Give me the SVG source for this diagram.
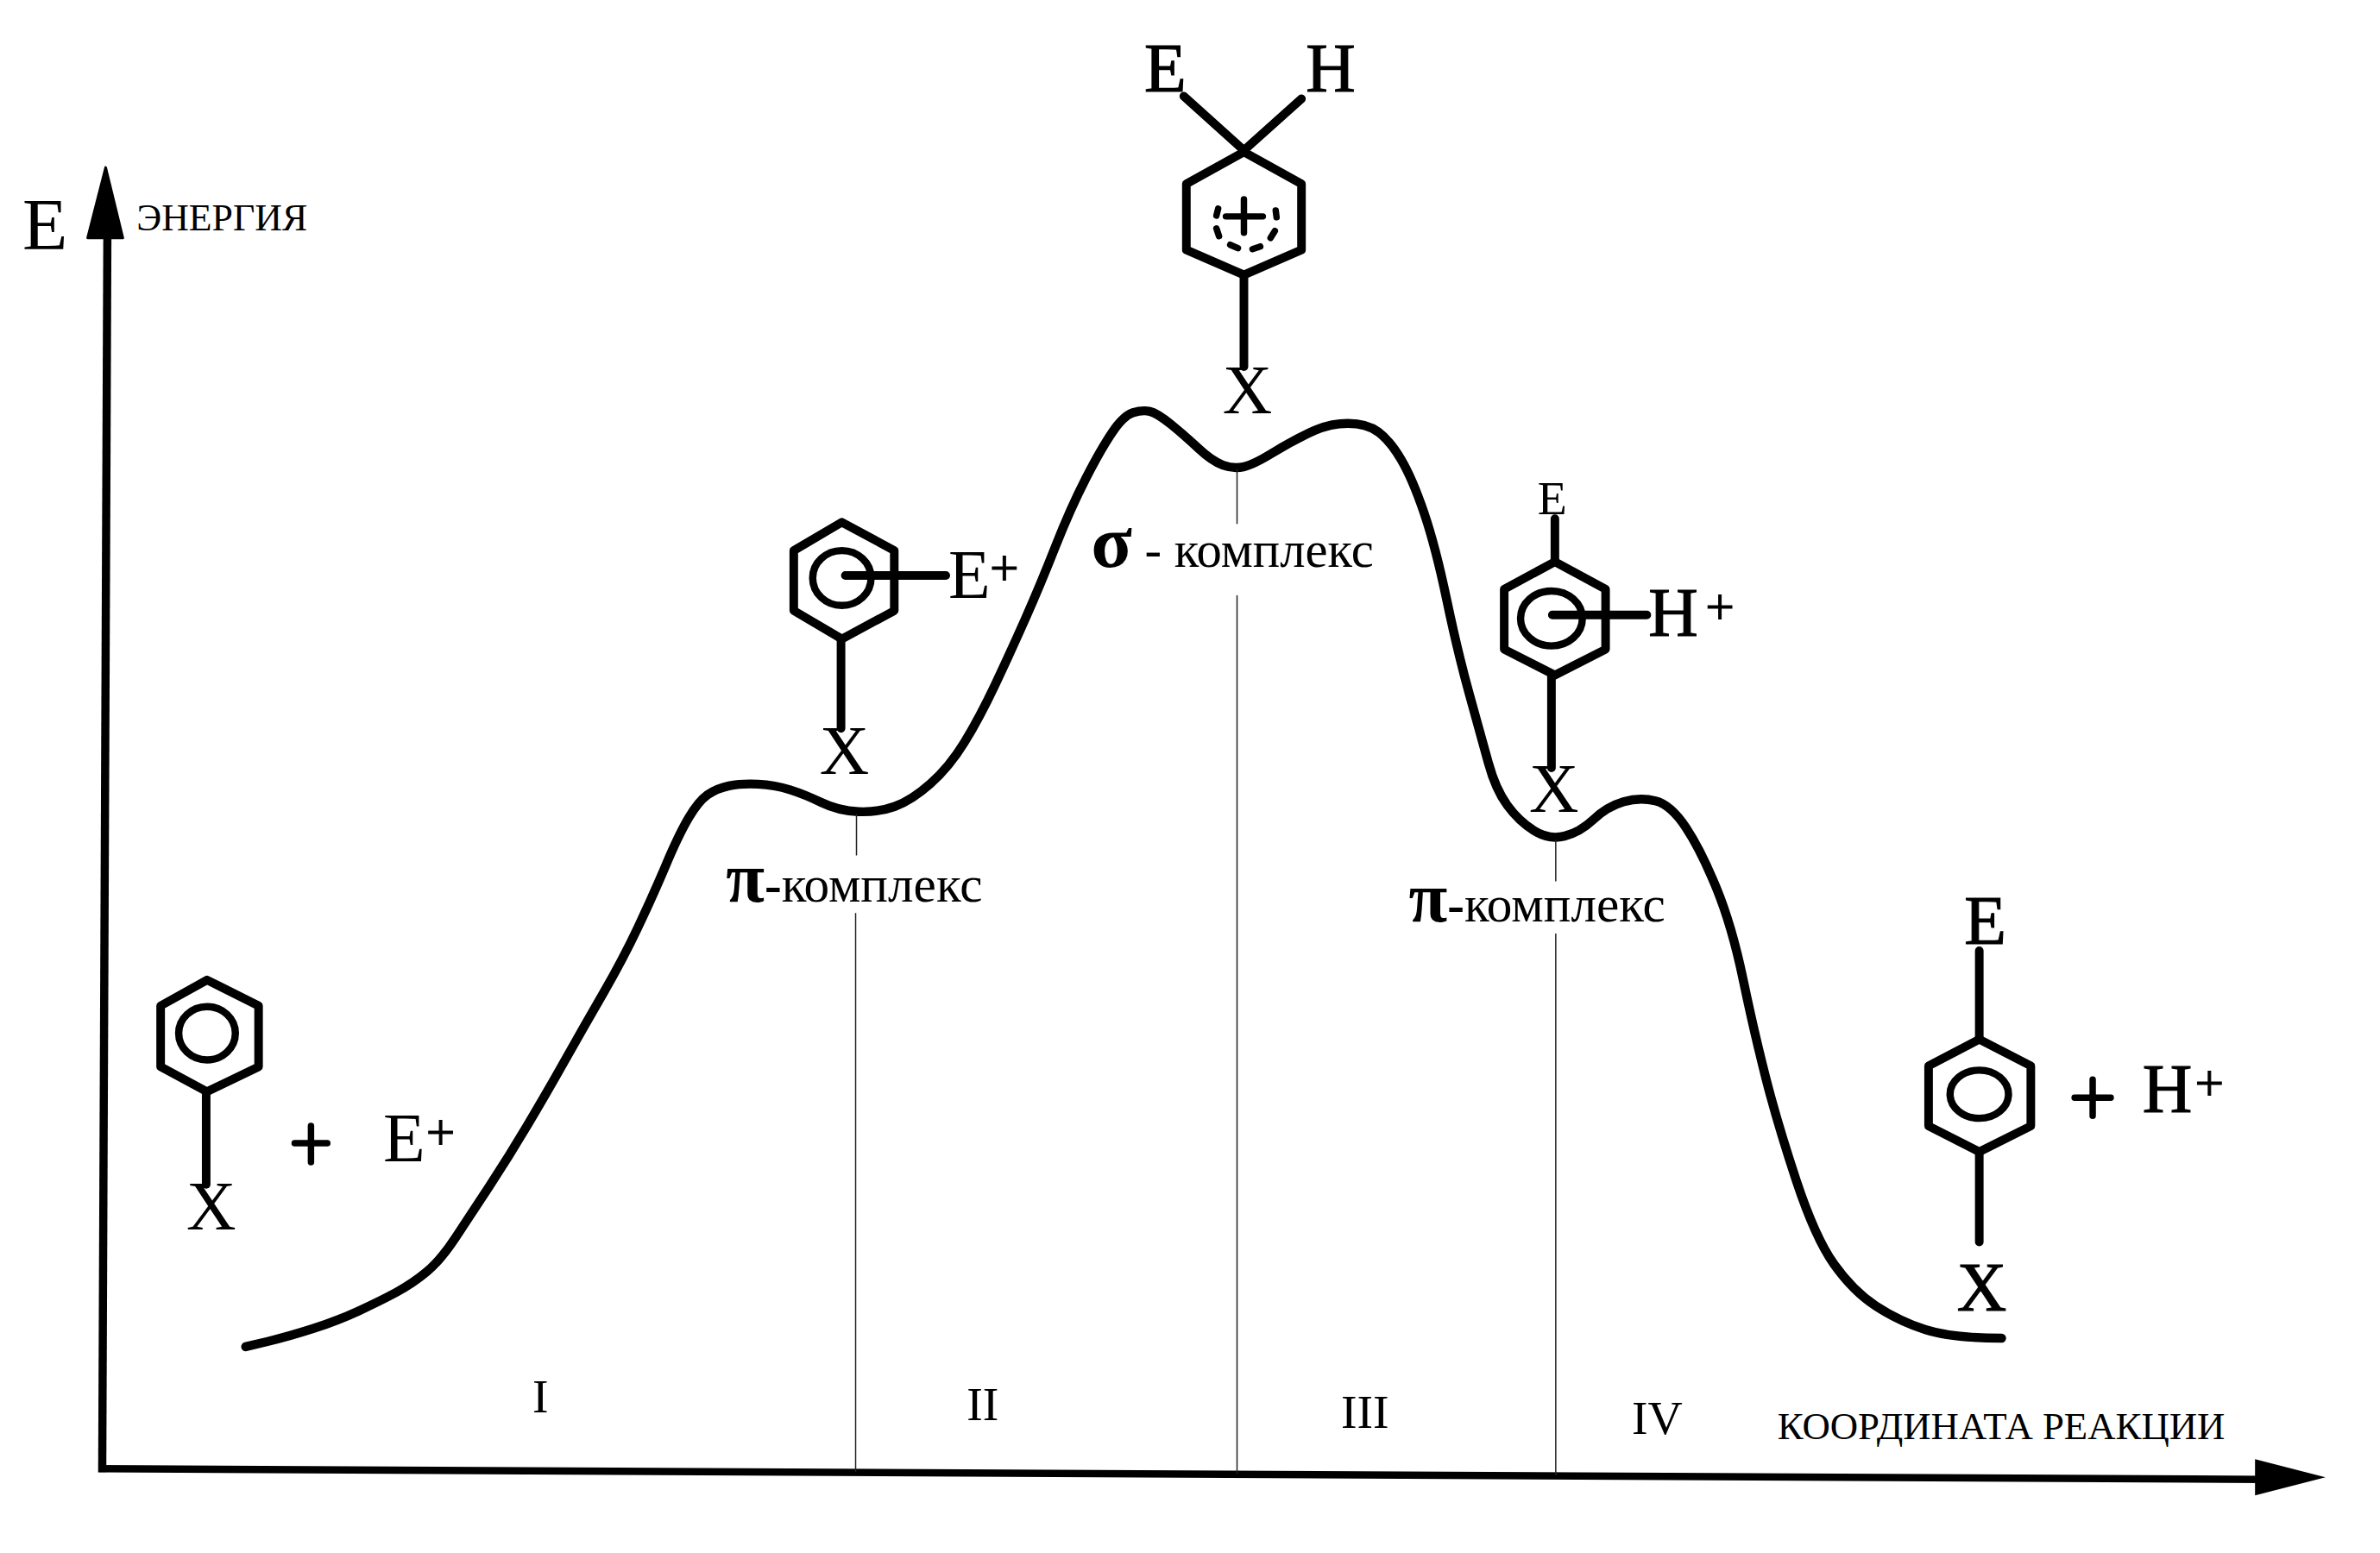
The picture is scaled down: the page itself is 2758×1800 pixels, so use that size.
<svg xmlns="http://www.w3.org/2000/svg" width="2758" height="1800" viewBox="0 0 2758 1800">
<style>
text{font-family:"Liberation Serif","Times New Roman",serif;fill:#000}
.b{fill:none;stroke:#000;stroke-width:10;stroke-linejoin:round;stroke-linecap:round}
.r{fill:none;stroke:#000;stroke-width:8.5}
.t{stroke:#000;stroke-width:7.5;stroke-linecap:round}
.v{stroke:#222;stroke-width:1.5}
.f{font-size:80px}
.s{stroke:#000;stroke-width:1.2px}
.sup{font-size:60px;stroke:#000;stroke-width:1px}
.lbl{font-size:59.5px}
.pi{font-size:82px;font-weight:bold}
.rom{font-size:56px}
</style>
<rect width="2758" height="1800" fill="#fff"/>
<g id="diagram" transform="scale(0.9955)">
<g id="connectors">
<path id="axis-y" d="M125 270L119 1714" fill="none" stroke="#000" stroke-width="9.5"/>
<path d="M123 195L143 277H102Z" stroke="#000" stroke-width="3" stroke-linejoin="round"/>
<path id="axis-x" d="M114.5 1710L2635 1722.5" fill="none" stroke="#000" stroke-width="8.5"/>
<path d="M2707 1720L2625 1699V1741Z"/>
<path id="energy-curve" d="M286 1568L311 1562Q336 1556 364 1547Q392 1538 417 1526.5Q442 1515 461.5 1504.5Q481 1494 497 1480.5Q513 1467 530.5 1440.5Q548 1414 570 1380.5Q592 1347 614 1310Q636 1273 658.5 1233Q681 1193 703 1155Q725 1117 742.5 1080Q760 1043 775 1007.5Q790 972 801.5 952.5Q813 933 823.5 925.5Q834 918 848.5 915Q863 912 882.5 913Q902 914 919.5 919.5Q937 925 956.5 934.5Q976 944 999 945Q1022 946 1041.5 939Q1061 932 1083 912.5Q1105 893 1122.5 864.5Q1140 836 1158 798Q1176 760 1193.5 720.5Q1211 681 1228.5 636.5Q1246 592 1264 557Q1282 522 1295 503Q1308 484 1319 480.5Q1330 477 1338.5 479Q1347 481 1363 494Q1379 507 1395 522Q1411 537 1423.5 541.5Q1436 546 1447.5 543.5Q1459 541 1481 527.5Q1503 514 1525 503.5Q1547 493 1569 493Q1591 493 1604.5 503Q1618 513 1631 535Q1644 557 1657.5 596.5Q1671 636 1684 698Q1697 760 1710.5 808.5Q1724 857 1732.5 888Q1741 919 1754.5 937.5Q1768 956 1785.5 967Q1803 978 1821 973.5Q1839 969 1855 954Q1871 939 1890 933.5Q1909 928 1927 932.5Q1945 937 1962.5 963.5Q1980 990 1998 1034Q2016 1078 2029 1140Q2042 1202 2055.5 1255Q2069 1308 2091 1374.5Q2113 1441 2135 1472Q2157 1503 2183.5 1520.5Q2210 1538 2241 1548Q2272 1558 2330 1558" fill="none" stroke="#000" stroke-width="10.5" stroke-linejoin="round" stroke-linecap="round"/>
<path class="v" d="M997 948V996M996 1063V1714M1440 546V610M1440 693V1716M1811 978V1026M1811 1087V1718"/>
</g>
<g id="axis-labels">
<text x="26" y="290" font-size="86">E</text>
<text x="159" y="268" font-size="44">ЭНЕРГИЯ</text>
<text x="2069" y="1676" font-size="45">КООРДИНАТА РЕАКЦИИ</text>
</g>
<g id="regions">
<text class="rom" x="629" y="1644" text-anchor="middle">I</text>
<text class="rom" x="1144" y="1653" text-anchor="middle">II</text>
<text class="rom" x="1589" y="1662" text-anchor="middle">III</text>
<text class="rom" x="1929" y="1670" text-anchor="middle">IV</text>
</g>
<g id="reactants" transform="translate(1 4)">
<path class="b" d="M240 1137L300 1167V1238L240 1267L186 1238V1167Z"/>
<ellipse class="r" cx="240" cy="1199" rx="33" ry="31"/>
<path class="b" stroke-linecap="butt" d="M239 1267V1375"/>
<text class="f" x="245" y="1427" text-anchor="middle">X</text>
<path class="t" d="M342 1327H380M361 1307V1349"/>
<text class="f" x="445" y="1348">E</text>
<text class="sup" x="512" y="1334" text-anchor="middle">+</text>
</g>
<g id="pi-complex-1">
<g transform="translate(1 3)">
<path class="b" d="M979 605L1040 638V708L979 741L923 708V638Z"/>
<ellipse class="r" cx="979" cy="670" rx="34" ry="32"/>
<path class="b" d="M983 667H1100M978 741V845"/>
<text class="f" x="982" y="898" text-anchor="middle">X</text>
<text class="f" x="1103" y="693">E</text>
<text class="sup" x="1168" y="678" text-anchor="middle">+</text>
</g>
<text x="845" y="1050"><tspan class="pi">π</tspan><tspan class="lbl" font-weight="bold">-</tspan><tspan class="lbl">комплекс</tspan></text>
</g>
<g id="sigma-complex">
<g transform="translate(0 2)">
<path class="b" d="M1448 175L1515 212V289L1448 318L1381 289V212Z"/>
<path class="b" d="M1448 173L1378 110M1448 173L1515 113M1448 318V425"/>
<path class="t" d="M1427 250H1470M1448 230V269"/>
<path class="t" stroke-width="8" d="M1418 241L1416 249M1485 243L1486 251M1416 264L1419 273M1484 267L1479 275M1432 283L1441 287M1458 288L1467 285"/>
<text class="f s" x="1332" y="104">E</text>
<text class="f s" x="1520" y="104">H</text>
<text class="f" x="1452" y="479" text-anchor="middle">X</text>
</g>
<text x="1270" y="660"><tspan font-size="88" font-weight="bold">σ</tspan><tspan font-size="59"> - комплекс</tspan></text>
</g>
<g id="pi-complex-2">
<g transform="translate(0 4)">
<path class="b" d="M1810 650L1869 682V752L1810 782L1751 752V682Z"/>
<ellipse class="r" cx="1806" cy="716" rx="36" ry="32"/>
<path class="b" d="M1807 712H1917M1810 600V650M1806 782V890"/>
<text font-size="56" x="1807" y="595" text-anchor="middle">E</text>
<text class="f s" x="1919" y="736">H</text>
<text class="sup" x="2002" y="722" text-anchor="middle">+</text>
<text class="f" x="1809" y="941" text-anchor="middle">X</text>
</g>
<text x="1640" y="1073"><tspan class="pi">π</tspan><tspan class="lbl" font-weight="bold">-</tspan><tspan class="lbl">комплекс</tspan></text>
</g>
<g id="products" transform="translate(0 5)">
<path class="b" d="M2304 1205L2364 1236V1306L2304 1336L2245 1306V1236Z"/>
<ellipse class="r" cx="2304" cy="1269" rx="34" ry="28"/>
<path class="b" d="M2304 1102V1205M2304 1336V1441"/>
<text class="f s" x="2311" y="1094" text-anchor="middle">E</text>
<text class="f s" x="2307" y="1521" text-anchor="middle">X</text>
<path class="t" d="M2415 1273H2457M2436 1252V1294"/>
<text class="f s" x="2494" y="1290">H</text>
<text class="sup" x="2572" y="1276" text-anchor="middle">+</text>
</g>
</g>
</svg>
